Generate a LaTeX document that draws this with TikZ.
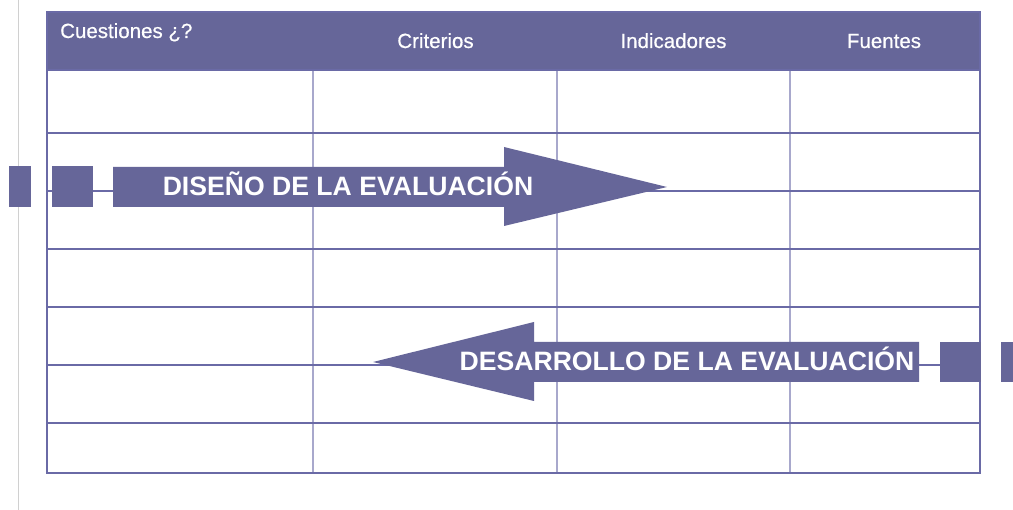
\documentclass[tikz,border=0pt]{standalone}
\usepackage{fontspec}
\setmainfont{Liberation Sans}
\definecolor{band}{HTML}{666699}
\definecolor{hline}{HTML}{6A6AA6}
\definecolor{vline}{HTML}{A8A8CC}
\definecolor{sideline}{HTML}{D0D0D0}
\tikzset{
  hdr/.style={text=white, font=\fontsize{20.5}{22}\selectfont\addfontfeature{FakeBold=0.6}, inner sep=0pt, anchor=base},
  arrowtxt/.style={text=white, font=\fontsize{26.6}{28}\bfseries\selectfont, inner sep=0pt, anchor=base},
  bandfill/.style={fill=band, draw=none},
  rowline/.style={draw=hline, line width=1.5pt},
  colline/.style={draw=vline, line width=2pt},
}
\begin{document}
\begin{tikzpicture}[x=1pt,y=-1pt]
\useasboundingbox (0,0) rectangle (1013,510);
\fill[white] (0,0) rectangle (1013,510);
% side line
\draw[sideline, line width=1.6pt] (18.5,0) -- (18.5,510);
% header
\fill[band] (47,12) rectangle (980,70);
\node[hdr, anchor=base west] (q) at (60,38) {Cuestiones ¿?};
\node[hdr] (c) at (435.5,48) {Criterios};
\node[hdr] (i) at (673.5,48) {Indicadores};
\node[hdr] (f) at (884,48) {Fuentes};
% column lines
\foreach \x in {313,557,790} \draw[colline] (\x,70) -- (\x,473);
% row lines
\foreach \y in {70,133,191,249,307,365,423} \draw[rowline] (47,\y) -- (980,\y);
% outer border
\draw[draw=hline, line width=2pt] (47,12) rectangle (980,473);
% arrow 1
\fill[band] (9,166) rectangle (31,207);
\fill[band] (52,166) rectangle (93,207);
\fill[band] (113,167) -- (504,167) -- (504,147) -- (667,187) -- (504,226) -- (504,207) -- (113,207) -- cycle;
\node[arrowtxt] (d) at (348,196) {DISEÑO DE LA EVALUACIÓN};
% arrow 2
\fill[band] (940,342) rectangle (981,382);
\fill[band] (1001,342) rectangle (1013,382);
\fill[band] (919,342) -- (534,342) -- (534,322) -- (373,362) -- (534,401) -- (534,382) -- (919,382) -- cycle;
\node[arrowtxt] (e) at (687,371) {DESARROLLO DE LA EVALUACIÓN};
\end{tikzpicture}
\end{document}
